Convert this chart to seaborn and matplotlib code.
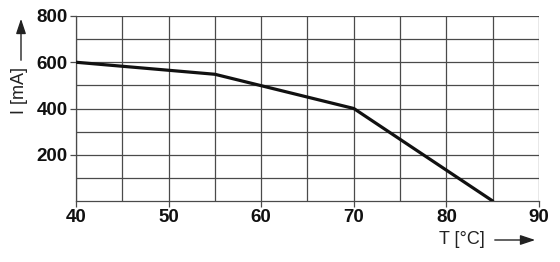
import matplotlib
matplotlib.use("Agg")
import matplotlib.pyplot as plt
import seaborn as sns
import pandas as pd

temps = [40, 55, 70, 85]
currents = [600, 548, 400, 0]
x_ticks = [40, 50, 60, 70, 80, 90]
y_ticks = [200, 400, 600, 800]

sns.set_theme(style="white")
plt.rcParams['font.family'] = ['Liberation Sans', 'DejaVu Sans']

fig = plt.figure(figsize=(5.6, 2.62), dpi=100)
ax = fig.add_axes([76/560, 1-201/262, (539-76)/560, (201-16)/262])

df = pd.DataFrame({"T": temps, "I": currents})
sns.lineplot(data=df, x="T", y="I", ax=ax, color="#111111", linewidth=2.3, zorder=5)

ax.set_xlim(40, 90)
ax.set_ylim(0, 800)
ax.set_xticks(x_ticks)
ax.set_xticks(range(45, 90, 10), minor=True)
ax.set_yticks(y_ticks)
ax.set_yticks(range(100, 800, 200), minor=True)
ax.grid(True, which="both", color="#4a4a4a", linewidth=0.9)
ax.set_xticklabels([str(v) for v in x_ticks], fontsize=13.5, fontweight="bold", color="#111111")
ax.set_yticklabels([str(v) for v in y_ticks], fontsize=13.5, fontweight="bold", color="#111111")
ax.tick_params(axis="both", which="major", length=4, width=0.9, color="#4a4a4a", pad=2)
ax.tick_params(axis="both", which="minor", length=0)
ax.tick_params(axis="x", which="major", bottom=True, direction="out")
ax.tick_params(axis="y", which="major", left=True, direction="out")
for s in ["top", "right"]:
    ax.spines[s].set_visible(False)
for s in ["left", "bottom"]:
    ax.spines[s].set_color("#4a4a4a")
    ax.spines[s].set_linewidth(0.9)
ax.set_xlabel("")
ax.set_ylabel("")

fig.text(20/560, 1-90/262, "I [mA]", rotation=90, ha="center", va="center", fontsize=13, color="#222222")
fig.text(462/560, 1-239/262, "T [°C]", ha="center", va="center", fontsize=13, color="#222222")

fig.add_artist(matplotlib.patches.FancyArrowPatch((21/560, 1-63/262), (21/560, 1-16/262),
               transform=fig.transFigure, arrowstyle="-|>,head_length=9,head_width=3",
               color="#222222", linewidth=1, mutation_scale=1))
fig.add_artist(matplotlib.patches.FancyArrowPatch((492/560, 1-240/262), (538/560, 1-240/262),
               transform=fig.transFigure, arrowstyle="-|>,head_length=9,head_width=3",
               color="#222222", linewidth=1, mutation_scale=1))

fig.savefig("out.png", dpi=100)
